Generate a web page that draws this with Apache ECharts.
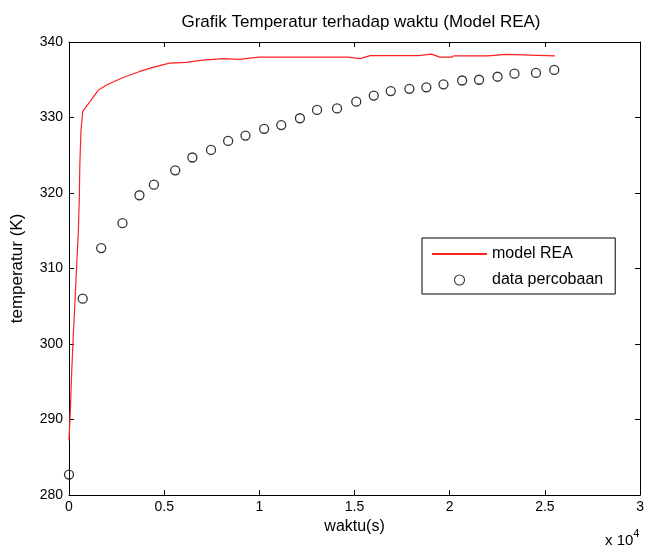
<!DOCTYPE html>
<html>
<head>
<meta charset="utf-8">
<script src="https://cdn.jsdelivr.net/npm/echarts@6/dist/echarts.min.js"></script>
<style>html,body{margin:0;padding:0;background:#fff;}#c{width:647px;height:547px;}</style>
</head>
<body>
<div id="c"></div>
<script>
const chartTitle = 'Grafik Temperatur terhadap waktu (Model REA)';
const xLabel = 'waktu(s)';
const yLabel = 'temperatur (K)';
const seriesNames = ['model REA', 'data percobaan'];

// experimental data (time in s, temperature in K)
const dataTime = [0,720,1690,2810,3700,4460,5580,6480,7460,8360,9270,10250,11150,12130,13030,14080,15090,16010,16900,17880,18770,19670,20650,21540,22510,23400,24530,25490];
const dataTemp = [282.7,306.0,312.7,316.0,319.7,321.1,323.0,324.7,325.7,326.9,327.6,328.5,329.0,329.9,331.0,331.2,332.1,332.9,333.5,333.8,334.0,334.4,334.9,335.0,335.4,335.8,335.9,336.3];

// model REA curve
const modelTime = [0,80,140,220,310,400,490,540,570,630,720,1100,1530,1970,2840,3710,4500,5280,6150,7020,8150,8940,9980,12130,14650,15300,15820,18350,18450,19040,19480,20090,20200,22010,22100,22960,23050,25530];
const modelTemp = [287.2,291.8,296.2,300.9,305.5,310.2,314.8,319.2,323.9,328.3,330.8,332.1,333.6,334.3,335.3,336.1,336.7,337.2,337.3,337.6,337.8,337.7,338.0,338.0,338.0,337.8,338.2,338.2,338.4,338.4,338.0,338.0,338.15,338.15,338.35,338.35,338.15,338.15];

const F = 'Liberation Sans, Arial, sans-serif';
const chart = echarts.init(document.getElementById('c'), null, {renderer: 'canvas'});

const axisCommon = {
  axisLine: {show: true, onZero: false, lineStyle: {color: '#000', width: 1}},
  axisTick: {show: true, inside: true, length: 5, lineStyle: {color: '#000'}},
  splitLine: {show: false}
};

chart.setOption({
  backgroundColor: '#fff',
  animation: false,
  title: {
    text: chartTitle, left: 356, top: 9, textAlign: 'center',
    textStyle: {fontFamily: F, fontSize: 17, fontWeight: 'normal', color: '#000'}
  },
  grid: {left: 69, right: 3, top: 42, bottom: 52},
  legend: {
    left: 422, top: 238, orient: 'vertical',
    backgroundColor: '#fff', borderColor: '#000', borderWidth: 1, borderRadius: 0,
    padding: [8, 12, 6, 9], itemGap: 10, itemWidth: 55, itemHeight: 10,
    textStyle: {fontFamily: F, fontSize: 16, color: '#000'},
    data: [
      {name: seriesNames[0], itemStyle: {opacity: 0}},
      {name: seriesNames[1], itemStyle: {borderWidth: 1.1}}
    ]
  },
  xAxis: [
    Object.assign({
      type: 'value', min: 0, max: 30000, interval: 5000, position: 'bottom',
      name: xLabel, nameLocation: 'middle', nameGap: 24,
      nameTextStyle: {fontFamily: F, fontSize: 16, color: '#000'},
      axisLabel: {fontFamily: F, fontSize: 14, color: '#000', margin: 5,
        formatter: v => String(v / 10000)}
    }, axisCommon),
    Object.assign({
      type: 'value', min: 0, max: 30000, interval: 5000, position: 'top',
      axisLabel: {show: false}
    }, axisCommon)
  ],
  yAxis: [
    Object.assign({
      type: 'value', min: 280, max: 340, interval: 10, position: 'left',
      name: yLabel, nameLocation: 'middle', nameGap: 43, nameRotate: 90,
      nameTextStyle: {fontFamily: F, fontSize: 17, color: '#000'},
      axisLabel: {fontFamily: F, fontSize: 14, color: '#000', margin: 6}
    }, axisCommon),
    Object.assign({
      type: 'value', min: 280, max: 340, interval: 10, position: 'right',
      axisLabel: {show: false}
    }, axisCommon)
  ],
  graphic: [{
    type: 'text', left: 605, top: 528,
    style: {
      text: '{a|x 10}{b|4}',
      rich: {
        a: {fontFamily: F, fontSize: 15, fill: '#000', padding: [8, 0, 0, 0]},
        b: {fontFamily: F, fontSize: 11, fill: '#000', padding: [0, 0, 7, 0]}
      }
    }
  }],
  series: [
    {
      name: seriesNames[0], type: 'line', xAxisIndex: 0, yAxisIndex: 0,
      data: modelTime.map((t, i) => [t, modelTemp[i]]),
      showSymbol: false, symbol: 'none',
      lineStyle: {color: '#ff2020', width: 1.2}, itemStyle: {color: '#ff2020'}
    },
    {
      name: seriesNames[1], type: 'scatter', xAxisIndex: 0, yAxisIndex: 0,
      data: dataTime.map((t, i) => [t, dataTemp[i]]),
      symbol: 'circle', symbolSize: 9,
      itemStyle: {color: 'rgba(255,255,255,0)', borderColor: '#000', borderWidth: 1.3}
    }
  ]
});
</script>
</body>
</html>
